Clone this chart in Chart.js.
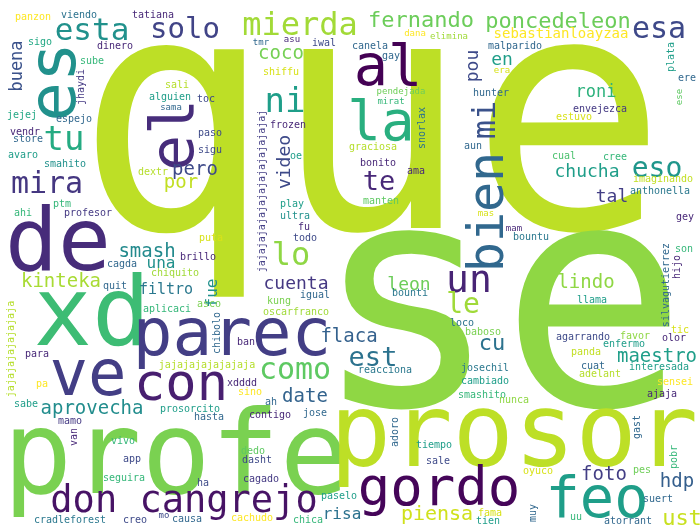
<!DOCTYPE html>
<html lang="es">
<head>
<meta charset="UTF-8">
<title>Nube de palabras</title>
<style>
  html, body { margin: 0; padding: 0; background: #ffffff; }
  #cloud { display: block; }
</style>
<script src="https://cdn.jsdelivr.net/npm/chart.js"></script>
</head>
<body>
<canvas id="cloud" width="700" height="532"></canvas>
<script>
// palabras y su colocacion (unidades de la escala: x 0-700, y 0-532)
const words = [
  'que', 'se', 'profe', 'prosor', 'xd', 'de', 'parec', 've', 'al', 'la',
  'feo', 'es', 'el', 'gordo', 'con', 'bien', 'un', 'don cangrejo', 'ni', 'mi',
  'mierda', 'esta', 'lo', 'como', 'esa', 'mira', 'solo', 'eso', 'le', 'tu',
  'est', 'te', 'ust', 'fernando', 'poncedeleon', 'cu', 'piensa', 'lindo', 'date', 'aprovecha',
  'kinteka', 'smash', 'pero', 'por', 'cuenta', 'flaca', 'maestro', 'foto', 'hdp', 'tal',
  'chucha', 'roni', 'en', 'coco', 'leon', 'buena', 'video', 'pou', 'sebastianloayzaa', 'una',
  'fue', 'filtro', 'risa', 'panzon', 'viendo', 'tatiana', 'dinero', 'sigo', 'sube', 'jhaydi',
  'sali', 'alguien', 'toc', 'sama', 'jejej', 'espejo', 'vendr', 'store', 'paso', 'sigu',
  'avaro', 'smahito', 'dextr', 'tmr', 'asu', 'iwal', 'canela', 'dana', 'elimina', 'gay',
  'shiffu', 'pendejada', 'mirat', 'frozen', 'jajajajajajajajajajajajajaj', 'snorlax', 'graciosa', 'oe', 'bonito', 'ama',
  'aun', 'malparido', 'era', 'plata', 'ere', 'ese', 'hunter', 'envejezca', 'estuvo', 'cual',
  'cree', 'imaginando', 'anthonella', 'gey', 'son', 'hijo', 'silvagutierrez', 'mas', 'mam', 'bountu',
  'bounti', 'loco', 'baboso', 'llama', 'tic', 'olor', 'agarrando', 'favor', 'enfermo', 'panda',
  'josechil', 'cuat', 'interesada', 'adelant', 'cambiado', 'sensei', 'smashito', 'nunca', 'ajaja', 'gast',
  'pobr', 'oyuco', 'pes', 'fama', 'tien', 'muy', 'uu', 'atorrant', 'suert', 'play',
  'ultra', 'fu', 'todo', 'manten', 'kung', 'igual', 'oscarfranco', 'ban', 'chibolo', 'asco',
  'aplicaci', 'quit', 'chiquito', 'cagda', 'brillo', 'puta', 'profesor', 'ptm', 'ahi', 'jajajajajajajaja',
  'para', 'jajajajajajajaja', 'xdddd', 'sino', 'reacciona', 'pa', 'sabe', 'prosorcito', 'hasta', 'mamo',
  'van', 'ah', 'contigo', 'jose', 'vivo', 'app', 'seguira', 'ha', 'adoro', 'tiempo',
  'sale', 'dedo', 'dasht', 'cagado', 'paselo', 'chica', 'cachudo', 'cradleforest', 'creo', 'mo',
  'causa'
];

const wordX = [
  371, 500, 176, 514, 92, 58, 232, 88, 388, 381,
  597, 75, 193, 439, 181, 503, 469, 184, 285, 495,
  300, 92, 291, 295, 659, 47, 185, 657, 463, 64,
  373, 379, 682, 421, 558, 492, 437, 586, 305, 92,
  61, 147, 195, 181, 296, 349, 657, 604, 677, 612,
  587, 596, 502, 281, 409, 22, 290, 478, 561, 161,
  217, 166, 342, 33, 79, 153, 115, 40, 92, 84,
  177, 170, 206, 171, 22, 74, 25, 28, 210, 210,
  23, 65, 153, 261, 292, 324, 370, 415, 449, 391,
  281, 401, 391, 288, 265, 425, 373, 296, 378, 416,
  473, 515, 502, 674, 687, 682, 491, 600, 574, 564,
  615, 663, 660, 685, 684, 680, 669, 486, 514, 531,
  410, 462, 483, 592, 680, 674, 583, 635, 624, 586,
  485, 593, 659, 600, 485, 675, 482, 514, 662, 640,
  677, 538, 642, 490, 488, 536, 576, 628, 658, 292,
  295, 304, 305, 381, 279, 315, 296, 246, 220, 209,
  167, 115, 175, 122, 198, 211, 88, 62, 23, 14,
  37, 207, 242, 250, 385, 42, 26, 190, 209, 70,
  77, 271, 270, 315, 123, 132, 124, 203, 398, 434,
  438, 253, 257, 261, 339, 308, 252, 70, 135, 164,
  187
];

const wordY = [
  228, 405, 493, 466, 345, 270, 355, 395, 85, 140,
  517, 82, 135, 505, 400, 212, 292, 512, 112, 120,
  35, 40, 265, 379, 38, 193, 38, 177, 313, 150,
  366, 190, 525, 27, 28, 350, 520, 288, 402, 414,
  287, 257, 175, 188, 289, 342, 362, 480, 487, 202,
  177, 97, 65, 59, 290, 66, 162, 66, 38, 268,
  293, 294, 519, 20, 18, 18, 49, 45, 64, 87,
  88, 100, 102, 110, 118, 122, 135, 142, 136, 153,
  158, 167, 175, 45, 42, 46, 49, 36, 39, 59,
  75, 94, 104, 128, 191, 128, 150, 159, 166, 174,
  149, 49, 73, 57, 81, 97, 96, 112, 120, 159,
  160, 182, 194, 220, 252, 267, 285, 216, 231, 240,
  296, 326, 335, 303, 333, 341, 340, 339, 347, 355,
  371, 369, 370, 377, 384, 385, 398, 403, 397, 427,
  457, 474, 473, 516, 524, 513, 520, 524, 502, 207,
  219, 230, 241, 204, 304, 298, 315, 345, 333, 307,
  312, 289, 276, 267, 260, 241, 216, 207, 216, 349,
  357, 368, 386, 395, 373, 387, 407, 412, 420, 424,
  437, 405, 418, 416, 444, 462, 481, 486, 432, 448,
  464, 454, 463, 482, 499, 523, 521, 523, 523, 518,
  522
];

const wordSize = [
  328, 312, 115, 102, 97, 88, 66, 64, 57, 56,
  57, 66, 60, 54, 52, 50, 38, 37, 34, 32,
  32, 31, 32, 30, 30, 30, 29, 28, 28, 34,
  27, 27, 22, 22, 22, 22, 20, 19, 19, 19,
  19, 19, 19, 19, 18, 19, 19, 19, 19, 18,
  18, 17, 18, 19, 18, 17, 18, 18, 14, 16,
  16, 15, 16, 10, 10, 10, 10, 10, 10, 10,
  10, 10, 10, 9, 10, 10, 10, 10, 10, 10,
  10, 10, 10, 9, 9, 10, 10, 9, 9, 10,
  10, 9, 9, 10, 10, 10, 10, 10, 10, 10,
  10, 10, 9, 10, 10, 9, 10, 10, 10, 10,
  10, 10, 10, 10, 10, 10, 10, 9, 9, 10,
  10, 10, 10, 10, 10, 10, 10, 10, 10, 10,
  10, 10, 10, 10, 10, 10, 10, 10, 10, 10,
  10, 10, 10, 10, 10, 10, 10, 10, 10, 10,
  10, 10, 10, 10, 10, 10, 10, 10, 10, 10,
  10, 10, 10, 10, 10, 10, 10, 10, 10, 10,
  10, 10, 10, 10, 10, 10, 10, 10, 10, 10,
  10, 10, 10, 10, 10, 10, 10, 10, 10, 10,
  10, 10, 10, 10, 10, 10, 10, 10, 10, 9,
  10
];

// 1 = palabra vertical (se lee de abajo hacia arriba)
const wordVertical = [
  0, 0, 0, 0, 0, 0, 0, 0, 0, 0,
  0, 1, 1, 0, 0, 1, 0, 0, 0, 1,
  0, 0, 0, 0, 0, 0, 0, 0, 0, 0,
  0, 0, 0, 0, 0, 0, 0, 0, 0, 0,
  0, 0, 0, 0, 0, 0, 0, 0, 0, 0,
  0, 0, 0, 0, 0, 1, 1, 1, 0, 0,
  1, 0, 0, 0, 0, 0, 0, 0, 0, 1,
  0, 0, 0, 0, 0, 0, 0, 0, 0, 0,
  0, 0, 0, 0, 0, 0, 0, 0, 0, 0,
  0, 0, 0, 0, 1, 1, 0, 0, 0, 0,
  0, 0, 0, 1, 0, 1, 0, 0, 0, 0,
  0, 0, 0, 0, 0, 1, 1, 0, 0, 0,
  0, 0, 0, 0, 0, 0, 0, 0, 0, 0,
  0, 0, 0, 0, 0, 0, 0, 0, 0, 1,
  1, 0, 0, 0, 0, 1, 0, 0, 0, 0,
  0, 0, 0, 0, 0, 0, 0, 0, 1, 0,
  0, 0, 0, 0, 0, 0, 0, 0, 0, 1,
  0, 0, 0, 0, 0, 0, 0, 0, 0, 0,
  1, 0, 0, 0, 0, 0, 0, 0, 1, 0,
  0, 0, 0, 0, 0, 0, 0, 0, 0, 0,
  0
];

const wordColor = [
  '#bddf26', '#8fd744', '#7ad151', '#bddf26', '#3dbc74', '#472c7a', '#433e85', '#433e85', '#440154', '#29af7f',
  '#1f9e89', '#21918c', '#472d7b', '#450559', '#481f70', '#31688e', '#482475', '#471365', '#1f9e89', '#3b528b',
  '#a2da37', '#21918c', '#8fd744', '#5ec962', '#3e4989', '#453781', '#414487', '#1f968b', '#a0da39', '#25ab82',
  '#2c728e', '#482878', '#c8e020', '#6ccd5a', '#6ccd5a', '#2c728e', '#d0e11c', '#8fd744', '#33638d', '#228d8d',
  '#a8db34', '#238a8d', '#3e4a89', '#c2df23', '#453882', '#34618d', '#1f9e89', '#433e85', '#355f8d', '#433e85',
  '#1f9e89', '#2db27d', '#1f9e89', '#75d054', '#6ccd5a', '#3b528b', '#3e4a89', '#3e4a89', '#fde725', '#21918c',
  '#21918c', '#2a788e', '#2c728e', '#fde725', '#2c728e', '#482878', '#482878', '#22a884', '#35b779', '#443983',
  '#b5de2b', '#1f9e89', '#3e4a89', '#31688e', '#22a884', '#31688e', '#482878', '#31688e', '#3e4a89', '#3e4a89',
  '#1f9e89', '#21918c', '#b5de2b', '#31688e', '#482878', '#3e4a89', '#31688e', '#fde725', '#a0da39', '#31688e',
  '#d8e219', '#6ece58', '#35b779', '#482878', '#433e85', '#2c728e', '#b5de2b', '#1f9e89', '#482878', '#482878',
  '#31688e', '#31688e', '#d8e219', '#1f9e89', '#31688e', '#5ec962', '#31688e', '#443983', '#d8e219', '#4ac16d',
  '#35b779', '#c2df23', '#2a788e', '#482878', '#35b779', '#482878', '#31688e', '#d8e219', '#482878', '#2a788e',
  '#2a788e', '#2c728e', '#7ad151', '#1f9e89', '#d8e219', '#482878', '#3e4a89', '#8fd744', '#1f9e89', '#c2df23',
  '#2a788e', '#31688e', '#1f9e89', '#b5de2b', '#1f9e89', '#fde725', '#35b779', '#8fd744', '#482878', '#31688e',
  '#35b779', '#d8e219', '#6ece58', '#d8e219', '#1f9e89', '#31688e', '#35b779', '#31688e', '#31688e', '#1f9e89',
  '#21918c', '#482878', '#3e4a89', '#5ec962', '#7ad151', '#31688e', '#a0da39', '#482878', '#31688e', '#7ad151',
  '#35b779', '#31688e', '#a0da39', '#31688e', '#482878', '#d8e219', '#443983', '#35b779', '#35b779', '#b5de2b',
  '#482878', '#b5de2b', '#482878', '#fde725', '#2a788e', '#fde725', '#1f9e89', '#1f9e89', '#31688e', '#443983',
  '#482878', '#31688e', '#482878', '#31688e', '#35b779', '#3e4a89', '#35b779', '#3e4a89', '#31688e', '#1f9e89',
  '#3e4a89', '#5ec962', '#3e4a89', '#443983', '#1f9e89', '#35b779', '#fde725', '#2a788e', '#3e4a89', '#3e4a89',
  '#31688e'
];

const FONT = '"DejaVu Sans Mono", "Liberation Mono", monospace';

// dibuja cada palabra en la posicion que le da la escala
const wordPlugin = {
  id: 'wordText',
  afterDatasetsDraw(chart) {
    const ctx = chart.ctx;
    const meta = chart.getDatasetMeta(0);
    const yScale = chart.scales.y;
    const unit = Math.abs(yScale.getPixelForValue(1) - yScale.getPixelForValue(0));
    ctx.save();
    ctx.textAlign = 'center';
    ctx.textBaseline = 'alphabetic';
    meta.data.forEach((pt, i) => {
      const px = wordSize[i] * unit;
      ctx.save();
      ctx.translate(pt.x, pt.y);
      if (wordVertical[i]) ctx.rotate(-Math.PI / 2);
      ctx.font = px + 'px ' + FONT;
      ctx.fillStyle = wordColor[i];
      ctx.fillText(words[i], 0, 0);
      ctx.restore();
    });
    ctx.restore();
  }
};

new Chart(document.getElementById('cloud'), {
  type: 'scatter',
  data: {
    datasets: [{
      data: words.map((w, i) => ({ x: wordX[i], y: wordY[i] })),
      pointRadius: 0,
      pointHoverRadius: 0
    }]
  },
  options: {
    responsive: false,
    animation: false,
    layout: { padding: 0 },
    events: [],
    plugins: { legend: { display: false }, tooltip: { enabled: false } },
    scales: {
      x: { type: 'linear', min: 0, max: 700, display: false },
      y: { type: 'linear', min: 0, max: 532, reverse: true, display: false }
    }
  },
  plugins: [wordPlugin]
});
</script>
</body>
</html>
